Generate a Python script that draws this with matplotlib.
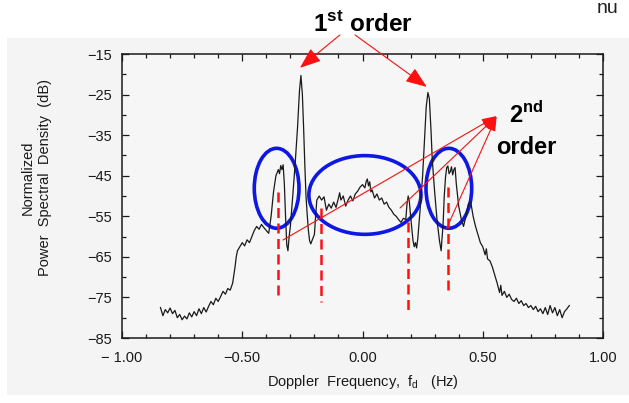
import matplotlib
matplotlib.use('Agg')
import matplotlib.pyplot as plt
from matplotlib.patches import Ellipse, Rectangle
from matplotlib.ticker import MultipleLocator

plt.rcParams['font.family'] = ['Liberation Sans', 'DejaVu Sans']
plt.rcParams['mathtext.fontset'] = 'custom'
plt.rcParams['mathtext.rm'] = 'Liberation Sans'
plt.rcParams['mathtext.bf'] = 'Liberation Sans:bold'

freq = [-0.84, -0.83, -0.82, -0.81, -0.80, -0.79, -0.78, -0.77, -0.76, -0.75,
        -0.74, -0.73, -0.72, -0.71, -0.70, -0.69, -0.68, -0.67, -0.66, -0.65,
        -0.64, -0.63, -0.62, -0.61, -0.60, -0.59, -0.58, -0.57, -0.56, -0.55,
        -0.54, -0.535, -0.53, -0.525, -0.52, -0.51, -0.50, -0.49, -0.48, -0.47,
        -0.46, -0.45, -0.44, -0.43, -0.42, -0.41, -0.40, -0.39, -0.38, -0.37,
        -0.36, -0.35, -0.345, -0.34, -0.335, -0.33, -0.325, -0.32, -0.315, -0.31,
        -0.305, -0.30, -0.29, -0.28, -0.27, -0.262, -0.256, -0.25, -0.245, -0.24,
        -0.235, -0.23, -0.225, -0.22, -0.215, -0.21, -0.20, -0.195, -0.19, -0.18,
        -0.17, -0.16, -0.15, -0.14, -0.13, -0.12, -0.11, -0.10, -0.095, -0.09,
        -0.08, -0.07, -0.06, -0.05, -0.04, -0.03, -0.02, -0.01, 0.00, 0.01,
        0.015, 0.02, 0.025, 0.03, 0.035, 0.04, 0.05, 0.06, 0.07, 0.08,
        0.09, 0.10, 0.11, 0.12, 0.13, 0.14, 0.15, 0.16, 0.17, 0.18,
        0.185, 0.19, 0.195, 0.20, 0.205, 0.21, 0.215, 0.22, 0.225, 0.23,
        0.24, 0.25, 0.258, 0.265, 0.272, 0.278, 0.285, 0.29, 0.30, 0.31,
        0.32, 0.327, 0.335, 0.34, 0.345, 0.35, 0.355, 0.36, 0.365, 0.37,
        0.375, 0.38, 0.385, 0.39, 0.40, 0.41, 0.42, 0.43, 0.44, 0.45,
        0.46, 0.47, 0.48, 0.49, 0.50, 0.51, 0.515, 0.52, 0.53, 0.54,
        0.55, 0.56, 0.57, 0.575, 0.58, 0.59, 0.60, 0.61, 0.62, 0.63,
        0.64, 0.65, 0.66, 0.67, 0.68, 0.69, 0.70, 0.71, 0.72, 0.73,
        0.74, 0.75, 0.76, 0.77, 0.78, 0.79, 0.80, 0.81, 0.82, 0.83,
        0.84, 0.85, 0.86]
psd = [-77.5, -79.5, -78.0, -78.8, -77.6, -79.0, -78.2, -80.0, -79.2, -80.5,
       -79.6, -80.3, -78.8, -79.8, -78.5, -79.5, -77.8, -79.0, -77.5, -78.6,
       -77.2, -76.0, -76.8, -75.2, -76.0, -74.8, -73.5, -74.2, -72.8, -73.2,
       -71.5, -69.5, -67.5, -65.0, -63.5, -62.5, -61.5, -62.3, -60.8, -61.5,
       -60.0, -58.5, -57.5, -58.2, -57.0, -57.8, -58.5, -59.2, -55.0, -49.0,
       -45.0, -43.5, -44.5, -42.5, -43.5, -42.3, -47.0, -55.0, -62.0, -63.5,
       -60.0, -57.5, -50.0, -42.0, -33.0, -24.0, -20.3, -25.0, -33.0, -42.0,
       -50.0, -54.5, -58.5, -61.0, -61.8, -61.0, -59.5, -55.0, -51.0, -50.0,
       -51.0, -50.2, -53.5, -52.0, -53.0, -51.5, -52.8, -50.5, -49.2, -51.0,
       -50.0, -52.5, -51.0, -50.0, -51.2, -49.5, -48.8, -47.8, -47.2, -48.0,
       -46.5, -45.8, -47.5, -46.5, -49.0, -48.5, -50.5, -49.5, -51.0, -50.5,
       -52.0, -51.5, -52.8, -53.5, -54.5, -55.0, -55.8, -56.5, -55.5, -55.8,
       -52.0, -50.0, -51.5, -55.0, -58.0, -61.0, -62.5, -61.5, -62.8, -60.5,
       -53.0, -45.0, -36.0, -28.0, -24.5, -26.0, -34.0, -41.0, -49.0, -56.0,
       -61.0, -63.5, -57.0, -50.0, -45.5, -43.0, -42.6, -44.5, -44.0, -42.8,
       -44.8, -43.5, -43.0, -47.0, -52.5, -55.5, -57.5, -55.0, -52.0, -51.5,
       -55.0, -57.5, -59.5, -61.5, -62.5, -64.5, -63.0, -65.5, -66.0, -67.5,
       -69.5, -71.5, -73.8, -72.0, -74.5, -73.5, -75.0, -74.2, -75.5, -76.0,
       -75.2, -76.5, -75.8, -77.0, -76.5, -77.5, -77.0, -78.0, -77.2, -78.5,
       -77.8, -79.0, -77.5, -79.2, -77.0, -78.8, -77.5, -79.5, -78.0, -80.0,
       -78.5, -77.8, -77.0]

x_ticks = [-1.0, -0.5, 0.0, 0.5, 1.0]
x_ticklabels = ['\u2212 1.00', '\u22120.50', '0.00', '0.50', '1.00']
y_ticks = [-85, -75, -65, -55, -45, -35, -25, -15]

# dashed markers: x, top, bottom
mark_x = [-0.353, -0.174, 0.188, 0.356]
mark_top = [-49.0, -53.0, -56.4, -47.8]
mark_bot = [-75.1, -76.1, -78.8, -74.4]

# circled regions: centre, width, height
ell_cx = [-0.357, 0.010, 0.359]
ell_cy = [-48.1, -49.75, -48.1]
ell_w = [0.186, 0.466, 0.19]
ell_h = [19.7, 19.4, 19.7]

red = '#ff1010'
blue = '#0d17e6'
ink = '#1a1a1a'

fig = plt.figure(figsize=(6.29, 4.03), dpi=100)
fig.patch.set_facecolor('white')
fig.patches.append(Rectangle((7 / 629, 1 - 395 / 403), 622 / 629, 357 / 403,
                             transform=fig.transFigure, facecolor='#f4f4f4',
                             edgecolor='none', zorder=-10))

ax = fig.add_axes([122 / 629, 1 - 338 / 403, 481 / 629, 284 / 403])
ax.set_facecolor('#f6f6f6')
ax.plot(freq, psd, color=ink, lw=0.9)

ax.set_xlim(-1.0, 1.0)
ax.set_ylim(-85, -15)
ax.set_xticks(x_ticks)
ax.set_xticklabels(x_ticklabels)
ax.xaxis.set_minor_locator(MultipleLocator(0.1))
ax.set_yticks(y_ticks)
ax.yaxis.set_minor_locator(MultipleLocator(5))
ax.tick_params(which='both', direction='in', top=True, right=True,
               colors=ink, labelsize=10.5, width=0.9)
ax.tick_params(which='major', length=5)
ax.tick_params(which='minor', length=3)
ax.tick_params(axis='x', pad=9)
ax.tick_params(axis='y', pad=7)
for s in ax.spines.values():
    s.set_linewidth(1.1)
    s.set_color(ink)

ax.set_xlabel(r'Doppler  Frequency,  f$_\mathrm{d}$   (Hz)', fontsize=10.5,
              color=ink, labelpad=6)
fig.text(36 / 629, 1 - 178 / 403, 'Normalized\nPower  Spectral  Density  (dB)',
         rotation=90, ha='center', va='center', multialignment='center',
         fontsize=10.5, color=ink, linespacing=1.3)

for x, yt, yb in zip(mark_x, mark_top, mark_bot):
    ax.plot([x, x], [yt, yb], color=red, lw=1.8, dashes=(4, 2.2))

for cx, cy, w, h in zip(ell_cx, ell_cy, ell_w, ell_h):
    ax.add_patch(Ellipse((cx, cy), w, h, fill=False, edgecolor=blue, lw=2.6))

big_head = dict(arrowstyle='-|>,head_length=1.3,head_width=0.5', color=red,
                lw=0.8, mutation_scale=10, shrinkA=0, shrinkB=0)
small_head = dict(arrowstyle='-|>,head_length=0.9,head_width=0.3', color=red,
                  lw=0.8, mutation_scale=10, shrinkA=0, shrinkB=0)

ax.text(0.0, -9.3, r'1$^{\mathbf{st}}$ order', ha='center', va='baseline',
        fontsize=17.5, fontweight='bold', color='black', clip_on=False)
ax.annotate('', xy=(-0.26, -18.4), xytext=(-0.094, -10.3),
            arrowprops=big_head, annotation_clip=False)
ax.annotate('', xy=(0.267, -23.1), xytext=(-0.031, -10.3),
            arrowprops=big_head, annotation_clip=False)

ax.text(0.68, -31.9, r'2$^{\mathbf{nd}}$', ha='center', va='baseline',
        fontsize=17, fontweight='bold', color='black', clip_on=False)
ax.text(0.68, -39.7, 'order', ha='center', va='baseline',
        fontsize=17, fontweight='bold', color='black', clip_on=False)
for sx, sy in [(-0.331, -60.85), (0.156, -52.96), (0.35, -57.96)]:
    ax.annotate('', xy=(0.558, -30.3), xytext=(sx, sy),
                arrowprops=small_head, annotation_clip=False)

fig.text(597 / 629, 1 - 13 / 403, 'nu', ha='left', va='baseline',
         fontsize=14, color='#222222')

fig.savefig('out.png', dpi=100)
